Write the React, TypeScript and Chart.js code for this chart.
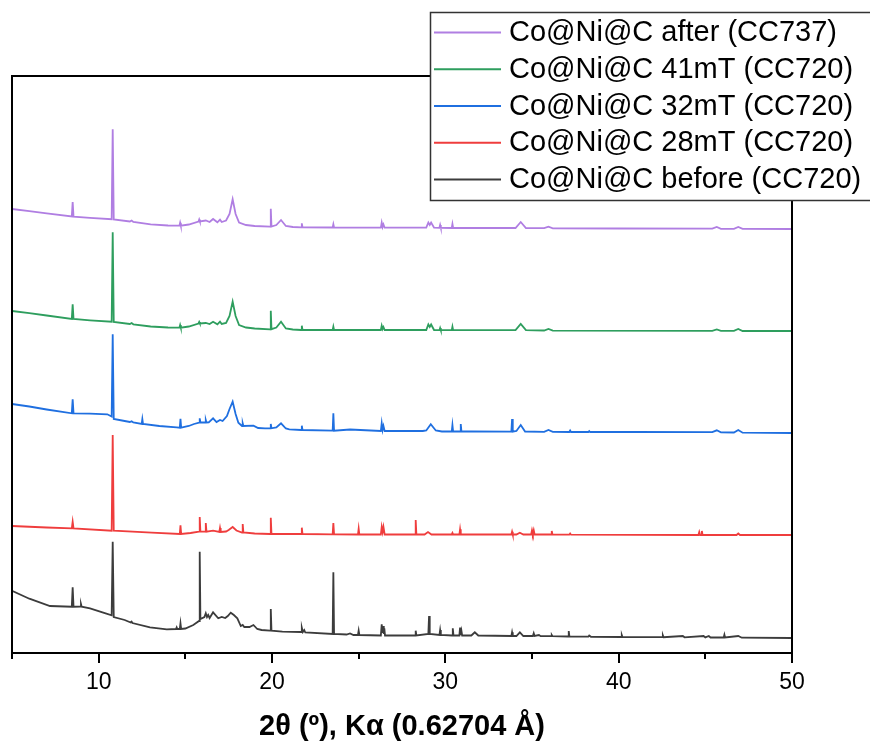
import { useEffect, useRef } from 'react';
import { Chart, registerables } from 'chart.js';

Chart.register(...registerables);

const legendLabels = [
  'Co@Ni@C after (CC737)',
  'Co@Ni@C 41mT (CC720)',
  'Co@Ni@C 32mT (CC720)',
  'Co@Ni@C 28mT (CC720)',
  'Co@Ni@C before (CC720)',
];
const colors = ['#b07ee2', '#2e9e5e', '#1f6fe0', '#ef3d3d', '#3c3c3c'];
const offsets = [424, 322, 220, 118, 15];
const majorTicks = [10, 20, 30, 40, 50];
const minorTicks = [5, 15, 25, 35, 45];
const xTitle = '2\u03b8 (\u00ba), K\u03b1 (0.62704 \u00c5)';

const after: [number, number][] = [
  [5, 20], [6, 17.8], [7, 15.6], [8.45, 12.5], [8.5, 27], [8.55, 12.3], [9.5, 11.2], [10.75, 9.8], [10.81, 99.7], [10.87, 9.5],
  [11.8, 7.5], [11.9, 8.5], [12.0, 7], [13, 4.7], [14, 3.5], [14.66, 3.3], [14.7, 6.3], [14.74, 3.3], [15.2, 4.5], [15.76, 7.5],
  [15.8, 9.5], [15.84, 7.5], [16.18, 8.5], [16.4, 7], [16.6, 10], [16.85, 6.7], [17.0, 9.3], [17.1, 7], [17.35, 8.5], [17.55, 15],
  [17.73, 29.7], [17.9, 15], [18.1, 6.5], [18.5, 4], [19, 3], [19.89, 2.3], [19.93, 20.3], [19.97, 2.5], [20.25, 4], [20.52, 9],
  [20.8, 3], [21.2, 2], [21.68, 1.7], [21.72, 5.7], [21.76, 1.7], [23.5, 1.5], [23.54, 4.7], [23.58, 1.5], [26.28, 1.3], [26.33, 6.3],
  [26.38, 2], [26.43, 4.5], [26.5, 1.3], [28.9, 1.5], [29.02, 6.5], [29.1, 4], [29.18, 6.5], [29.35, 1.3], [29.66, 1.2], [29.7, 4],
  [29.74, 1.2], [30.37, 1], [30.41, 5], [30.45, 1], [34.05, 1], [34.35, 7], [34.65, 1], [35.7, 0.8], [35.95, 2.3], [36.2, 0.7],
  [40, 0.5], [45.4, 0.3], [45.66, 2], [45.9, 0.2], [46.65, 0.2], [46.9, 2], [47.15, 0.1], [50, 0],
];

const mT41: [number, number][] = [
  [5, 20], [6, 17.8], [7, 15.5], [8.45, 12], [8.5, 26.7], [8.55, 12], [9.5, 10.7], [10.75, 9.3], [10.81, 98.7], [10.87, 9],
  [11.8, 7], [11.9, 8], [12.0, 6.7], [13, 4.5], [14, 3.5], [14.66, 3.3], [14.7, 6], [14.74, 3.3], [15.2, 4.5], [15.76, 7.5],
  [15.8, 9], [15.84, 7.5], [16.18, 8], [16.4, 7], [16.6, 9.3], [16.85, 6.7], [17.0, 9.3], [17.1, 7], [17.35, 8], [17.55, 15],
  [17.73, 29.3], [17.9, 15], [18.1, 6], [18.5, 3.5], [19, 2.5], [19.89, 1.7], [19.93, 20.3], [19.97, 1.8], [20.25, 3.5], [20.52, 9.3],
  [20.8, 2.5], [21.2, 1.5], [21.68, 1], [21.72, 5.3], [21.76, 1], [23.5, 1], [23.54, 4.3], [23.58, 1], [26.28, 1], [26.33, 5.3],
  [26.38, 2], [26.43, 4], [26.5, 1], [28.9, 1], [29.02, 6.5], [29.1, 4], [29.18, 6.5], [29.35, 1], [29.66, 0.8], [29.7, 3],
  [29.74, 0.8], [30.37, 0.8], [30.41, 4.3], [30.45, 0.8], [34.05, 0.8], [34.35, 7], [34.65, 0.8], [35.7, 0.5], [35.95, 2], [36.2, 0.4],
  [45.4, 0.2], [45.66, 1.5], [45.9, 0.2], [46.65, 0.1], [46.9, 2], [47.15, 0], [50, 0],
];

const mT32: [number, number][] = [
  [5, 29], [6, 26.5], [7, 23.5], [8.45, 19.7], [8.5, 33.7], [8.55, 19.7], [9.5, 19.3], [10.5, 18.7], [10.75, 16.5], [10.81, 98.7],
  [10.87, 14], [11.5, 12], [11.8, 11], [11.9, 11.8], [12.0, 10.5], [12.48, 9], [12.52, 14], [12.56, 9], [13.5, 7], [14.5, 5.7],
  [14.68, 5.3], [14.72, 14.3], [14.76, 5.3], [15.2, 7], [15.5, 9], [15.79, 10.3], [15.83, 14.7], [15.87, 10.5], [16.14, 10.5], [16.18, 13],
  [16.22, 10.5], [16.35, 10.7], [16.6, 14.7], [16.8, 11], [17.0, 13], [17.15, 12], [17.4, 17], [17.55, 24], [17.73, 31.3], [17.9, 19],
  [18.06, 10.3], [18.27, 7], [18.31, 9.7], [18.35, 7], [18.93, 7.3], [19.2, 5], [19.6, 4.7], [19.89, 4.7], [19.93, 9], [19.97, 4.7],
  [20.25, 5.5], [20.52, 9.7], [20.8, 4.5], [21.0, 3.7], [21.68, 3], [21.72, 7.3], [21.76, 3], [23.5, 2.3], [23.54, 19.7], [23.58, 2.3],
  [24.5, 3.5], [26.28, 2], [26.33, 9.7], [26.38, 3], [26.43, 7], [26.5, 2], [28.7, 2], [28.9, 2.5], [29.16, 8.7], [29.45, 2.5],
  [29.8, 1.5], [30.37, 1.5], [30.41, 8], [30.45, 1.5], [30.85, 1.5], [30.89, 9], [30.93, 1.5], [31.5, 1.5], [33.81, 1.3], [33.85, 14],
  [33.89, 1.3], [34.1, 2], [34.35, 8], [34.6, 1.5], [35.7, 1.2], [35.95, 3], [36.2, 1.2], [37.15, 1], [37.2, 2.5], [37.25, 1],
  [38.25, 1], [38.3, 2], [38.35, 1], [41, 1], [45.4, 0.8], [45.66, 2.7], [45.9, 0.7], [46.65, 0.5], [46.9, 3], [47.15, 0.3], [50, 0],
];

const mT28: [number, number][] = [
  [5, 9], [7, 7.5], [8.45, 6.7], [8.5, 13.3], [8.55, 6.7], [10.75, 4.3], [10.81, 100], [10.87, 4.3], [13.06, 2.3], [14.68, 1],
  [14.72, 9.7], [14.76, 1], [15.3, 2], [15.79, 3.3], [15.83, 18], [15.87, 3.3], [16.14, 3.3], [16.18, 12], [16.22, 3.3], [16.6, 4.3],
  [16.96, 3], [17.0, 7], [17.04, 3], [17.35, 3.5], [17.5, 5], [17.73, 8], [17.95, 4.5], [18.27, 2.5], [18.31, 11], [18.35, 2.5],
  [19, 1.5], [19.89, 1], [19.93, 17.3], [19.97, 1], [21.68, 1], [21.72, 7.3], [21.76, 1], [23.5, 0.7], [23.54, 12], [23.58, 0.7],
  [24.96, 0.5], [25.0, 6.3], [25.04, 0.5], [26.28, 0.5], [26.33, 8], [26.38, 3], [26.43, 8], [26.5, 0.5], [28.25, 0.5], [28.29, 15],
  [28.33, 0.5], [28.8, 0.5], [29.0, 3], [29.2, 0.5], [30.37, 0.5], [30.41, 2], [30.45, 0.5], [30.81, 0.5], [30.85, 5.7], [30.89, 0.5],
  [33.81, 0.5], [33.85, 3.3], [33.89, 0.5], [34.1, 0.5], [34.3, 2.3], [34.5, 0.5], [34.95, 0.5], [35.0, 4.7], [35.05, 1], [35.1, 4.7],
  [35.15, 0.5], [36.1, 0.5], [36.14, 4], [36.18, 0.5], [37.15, 0.3], [37.2, 1.5], [37.25, 0.3], [44.6, 0], [44.65, 3], [44.7, 0],
  [44.76, 0], [44.8, 4], [44.84, 0], [46.8, 0], [46.9, 1.5], [47.0, 0], [50, 0],
];

const before: [number, number][] = [
  [5, 47.3], [6, 39.3], [7.19, 32], [8.45, 31.3], [8.5, 50.7], [8.55, 31.3], [8.94, 31.5], [8.98, 34], [9.02, 31.3], [9.5, 29.7],
  [10.4, 24.7], [10.75, 22.7], [10.81, 96.3], [10.87, 21], [11.5, 18], [11.85, 15.5], [11.9, 16.3], [11.95, 15], [12.96, 10.7], [13.93, 8.7],
  [14.46, 9], [14.5, 10.7], [14.54, 9], [14.68, 9], [14.72, 14.7], [14.76, 9], [15.0, 9.5], [15.46, 13], [15.79, 17], [15.83, 86.3],
  [15.87, 19], [16.1, 21], [16.18, 24.7], [16.25, 21], [16.32, 23], [16.4, 20], [16.6, 25.7], [16.9, 19.7], [17.1, 21], [17.3, 20],
  [17.45, 22], [17.62, 25.3], [17.8, 23], [18.0, 19.7], [18.2, 12], [18.31, 13], [18.4, 11], [18.7, 11], [18.93, 13], [19.15, 9],
  [19.4, 8], [19.89, 7.3], [19.93, 29], [19.97, 7.3], [20.6, 6.3], [21.68, 6], [21.72, 10.3], [21.78, 6], [21.86, 8], [21.92, 5.5],
  [23.5, 4], [23.54, 65.7], [23.58, 4], [24.3, 3.5], [24.5, 4.5], [24.7, 3], [24.96, 3], [25.0, 7.3], [25.04, 3], [26.28, 2.5],
  [26.33, 13.7], [26.37, 5], [26.41, 12], [26.45, 4], [26.48, 9.7], [26.52, 2.5], [28.25, 2.5], [28.29, 7.3], [28.33, 2.5], [29.02, 4],
  [29.06, 22], [29.1, 4], [29.66, 3], [29.7, 8], [29.74, 3], [30.39, 2.5], [30.43, 9.7], [30.47, 2.5], [30.81, 2.5], [30.85, 10.3],
  [30.89, 3], [30.93, 7], [30.97, 2.5], [31.5, 2.5], [31.7, 5.7], [31.9, 2.5], [33.81, 2], [33.85, 5.7], [33.89, 2], [34.1, 2],
  [34.3, 5.7], [34.5, 2], [35.05, 2], [35.1, 4.7], [35.15, 2], [35.4, 3], [35.5, 1.8], [36.1, 1.8], [36.14, 3], [36.18, 1.8],
  [37.08, 1.5], [37.12, 7], [37.16, 1.5], [38.25, 1.3], [38.3, 2.5], [38.4, 1.2], [40.14, 1], [40.18, 3], [40.22, 1], [42.51, 0.8],
  [42.55, 2.7], [42.59, 0.8], [43.7, 2], [43.8, 0.7], [44.9, 2], [45.0, 0.6], [45.2, 2], [45.3, 0.5], [46.06, 0.5], [46.1, 3.3],
  [46.14, 0.5], [46.9, 2], [47.1, 0.3], [50, 0],
];

const seriesList = [after, mT41, mT32, mT28, before];

const FONT = "'Liberation Sans', Arial, sans-serif";

const framePlugin = {
  id: 'frameLegend',
  afterDraw(chart: any) {
    const { ctx, chartArea } = chart;
    const { left, top, right, bottom } = chartArea;
    const xs = chart.scales.x;
    ctx.save();
    // frame (left, top, right)
    ctx.strokeStyle = '#000';
    ctx.lineWidth = 2;
    ctx.beginPath();
    ctx.moveTo(left, bottom);
    ctx.lineTo(left, top);
    ctx.lineTo(right, top);
    ctx.lineTo(right, bottom);
    ctx.stroke();
    // minor ticks
    ctx.lineWidth = 2;
    ctx.beginPath();
    minorTicks.forEach((v) => {
      const px = Math.round(xs.getPixelForValue(v));
      ctx.moveTo(px, bottom);
      ctx.lineTo(px, bottom + 6);
    });
    ctx.stroke();
    // legend box
    const bx = 430.5, by = 12.5, bw = 450, bh = 188;
    ctx.fillStyle = '#fff';
    ctx.fillRect(bx, by, bw, bh);
    ctx.strokeStyle = '#333';
    ctx.lineWidth = 1.5;
    ctx.strokeRect(bx, by, bw, bh);
    const rowY0 = 32.5, rowStep = 36.75;
    ctx.font = `29px ${FONT}`;
    ctx.textBaseline = 'middle';
    ctx.textAlign = 'left';
    legendLabels.forEach((lab, i) => {
      const y = rowY0 + i * rowStep;
      ctx.strokeStyle = colors[i];
      ctx.lineWidth = 2;
      ctx.beginPath();
      ctx.moveTo(434, y);
      ctx.lineTo(501, y);
      ctx.stroke();
      ctx.fillStyle = '#000';
      ctx.fillText(lab, 509, y + 0.5);
    });
    ctx.restore();
  },
};

export default function App() {
  const ref = useRef<HTMLCanvasElement | null>(null);
  useEffect(() => {
    if (!ref.current) return;
    const chart = new Chart(ref.current, {
      type: 'line',
      data: {
        datasets: seriesList.map((s, i) => ({
          label: legendLabels[i],
          data: s.map(([x, y]) => ({ x, y: y + offsets[i] })),
          borderColor: colors[i],
          backgroundColor: colors[i],
          borderWidth: 1.8,
          pointRadius: 0,
          tension: 0,
          fill: false,
        })),
      },
      options: {
        animation: false,
        responsive: false,
        devicePixelRatio: 1,
        layout: { padding: { left: 12, top: 76, right: 78, bottom: 0 } },
        plugins: { legend: { display: false }, tooltip: { enabled: false } },
        scales: {
          x: {
            type: 'linear',
            min: 5,
            max: 50,
            afterBuildTicks: (scale: any) => {
              scale.ticks = majorTicks.map((v) => ({ value: v }));
            },
            afterFit: (scale: any) => {
              scale.height = 94;
            },
            grid: {
              drawOnChartArea: false,
              drawTicks: true,
              tickLength: 10,
              color: '#000',
              lineWidth: 2,
            },
            border: { display: true, color: '#000', width: 2 },
            ticks: {
              color: '#000',
              font: { family: FONT, size: 23 },
              padding: 6,
              maxRotation: 0,
              autoSkip: false,
            },
            title: {
              display: true,
              text: xTitle,
              color: '#000',
              font: { family: FONT, size: 29, weight: 'bold' },
              padding: { top: 0, bottom: 3 },
            },
          },
          y: {
            display: false,
            min: 0,
            max: 577,
          },
        },
      },
      plugins: [framePlugin],
    });
    return () => chart.destroy();
  }, []);
  return (
    <div style={{ position: 'fixed', left: 0, top: 0, width: 870, height: 747, background: '#fff' }}>
      <canvas ref={ref} width={870} height={747} />
    </div>
  );
}
